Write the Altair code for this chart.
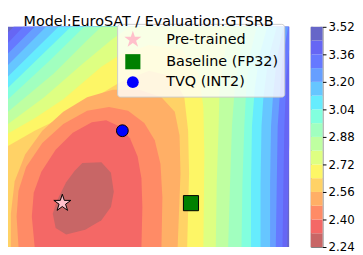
import altair as alt
import pandas as pd

# ---------------- data ----------------
LEVELS = [2.24, 2.32, 2.40, 2.48, 2.56, 2.64, 2.72, 2.80, 2.88,
          2.96, 3.04, 3.12, 3.20, 3.28, 3.36, 3.44, 3.52]
TICKS = [2.24, 2.40, 2.56, 2.72, 2.88, 3.04, 3.20, 3.36, 3.52]

# jet_r at alpha 0.6 on white, one colour per band (lowest first)
BAND_COLORS = ["#c86666", "#f46866", "#ff8b66", "#ffaf66", "#ffd266", "#fdf666",
               "#deff82", "#bfffa1", "#a1ffbf", "#82ffde", "#66ecfd", "#66c6ff",
               "#669fff", "#6679ff", "#6666f4", "#6666c8"]

# regions where loss < level, outlined by the contour lines
# (grid units: x to the right 0..295, y downward 0..231)
below_232 = [(78,143),(98,142),(108,153),(111,173),(108,189),(98,203),(81,213),(61,218),(50,211),(47,196),(51,183),(61,163),(70,151)]
below_240 = [(28,231),(25,199),(27,174),(35,152),(50,129),(68,111),(88,100),(103,98),(116,104),(128,117),(136,136),(140,159),(141,189),(140,231)]
below_248 = [(11,231),(9,199),(11,172),(19,147),(36,122),(58,102),(83,88),(106,84),(126,88),(143,101),(154,119),(160,144),(162,179),(161,231)]
below_256 = [(3,231),(3,196),(7,162),(18,134),(36,109),(58,89),(83,74),(110,66),(138,66),(161,74),(175,89),(180,114),(181,154),(178,231)]
below_264 = [(0,231),(0,125),(28,109),(63,92),(98,70),(118,58),(148,46),(173,52),(185,74),(189,109),(190,154),(188,231)]
below_272 = [(0,231),(0,112),(28,96),(58,76),(98,42),(118,29),(148,19),(183,24),(200,49),(205,84),(206,134),(205,231)]
below_280 = [(0,231),(0,102),(38,74),(78,39),(108,14),(128,0),(233,0),(228,24),(222,64),(221,104),(219,164),(218,231)]
below_288 = [(0,231),(0,89),(48,49),(83,14),(98,0),(250,0),(243,29),(238,64),(235,104),(233,164),(231,231)]
below_296 = [(0,231),(0,76),(43,36),(80,0),(261,0),(254,29),(250,64),(248,104),(246,164),(245,231)]
below_304 = [(0,231),(0,64),(66,0),(272,0),(264,29),(259,64),(256,104),(255,164),(255,231)]
below_312 = [(0,231),(0,52),(53,0),(282,0),(273,34),(268,74),(266,104),(265,164),(265,231)]
below_320 = [(0,231),(0,40),(40,0),(289,0),(282,34),(278,74),(276,104),(275,164),(275,231)]
below_328 = [(0,231),(0,28),(28,0),(294,0),(288,34),(285,74),(283,104),(282,164),(281,231)]
below_336 = [(0,231),(0,17),(16,0),(295,0),(295,24),(292,54),(290,104),(289,164),(288,231)]
below_344 = [(0,231),(0,6),(6,0),(295,0),(295,124),(294,174),(293,231)]
whole_grid = [(0,0),(295,0),(295,231),(0,231)]

# (band index of the fill, outline) drawn from the outermost to the innermost
REGIONS = [(15, whole_grid), (14, below_344), (13, below_336), (12, below_328),
           (11, below_320), (10, below_312), (9, below_304), (8, below_296),
           (7, below_288), (6, below_280), (5, below_272), (4, below_264),
           (3, below_256), (2, below_248), (1, below_240), (0, below_232)]

MARKER_NAMES = ["Pre-trained", "Baseline (FP32)", "TVQ (INT2)"]
MARKER_X = [57, 192, 120]
MARKER_Y = [185, 185, 109]

TITLE = "Model:EuroSAT / Evaluation:GTSRB"

# five-pointed star symbol (unit box -1..1), like matplotlib's '*'
STAR = ("M0,-1L0.2245,-0.309L0.9511,-0.309L0.3633,0.118L0.5878,0.809L0,0.382"
        "L-0.5878,0.809L-0.3633,0.118L-0.9511,-0.309L-0.2245,-0.309Z")

# ---------------- build tables ----------------
features = []
for band, poly in REGIONS:
    ring = [[float(x), float(y)] for x, y in poly]
    ring.append(ring[0])
    features.append({"type": "Feature", "properties": {"band": band},
                     "geometry": {"type": "Polygon", "coordinates": [ring]}})
geo_data = alt.InlineData(values={"type": "FeatureCollection", "features": features},
                          format=alt.DataFormat(property="features", type="json"))

pts_df = pd.DataFrame({"name": MARKER_NAMES, "x": MARKER_X, "y": MARKER_Y})
cb_df = pd.DataFrame({"lo": LEVELS[:-1], "hi": LEVELS[1:], "band": list(range(16))})

FONT = "DejaVu Sans"
color_scale = alt.Scale(domain=list(range(16)), range=BAND_COLORS)

W, H = 286, 224

field = alt.Chart(geo_data).mark_geoshape(strokeWidth=0).encode(
    color=alt.Color("properties.band:O", scale=color_scale, legend=None),
).project(type="identity")

leg = dict(title=None, orient="none", legendX=111, legendY=-3,
           fillColor="rgba(255,255,255,0.8)", strokeColor="#cccccc",
           cornerRadius=3, padding=6, labelFontSize=14.6, labelFont=FONT,
           labelColor="black", labelOffset=24, rowPadding=2,
           symbolStrokeColor="black", symbolStrokeWidth=1)

points = alt.Chart(pts_df).mark_point(filled=True, stroke="black", strokeWidth=1, opacity=1).encode(
    longitude="x:Q",
    latitude="y:Q",
    shape=alt.Shape("name:N", scale=alt.Scale(domain=MARKER_NAMES, range=[STAR, "square", "circle"]), legend=alt.Legend(**leg)),
    fill=alt.Fill("name:N", scale=alt.Scale(domain=MARKER_NAMES, range=["pink", "green", "blue"]), legend=alt.Legend(**leg)),
    size=alt.Size("name:N", scale=alt.Scale(domain=MARKER_NAMES, range=[330, 144, 170]), legend=alt.Legend(**leg)),
).project(type="identity")

plot = alt.layer(field, points).properties(
    width=W, height=H,
    title=alt.TitleParams(TITLE, fontSize=14.6, font=FONT, fontWeight="normal", anchor="middle", offset=-5, color="black"),
)

cbar = alt.Chart(cb_df).mark_rect().encode(
    y=alt.Y("lo:Q", scale=alt.Scale(domain=[2.24, 3.52], nice=False, zero=False),
            axis=alt.Axis(orient="right", values=TICKS, format=".2f", title=None, domain=False,
                          grid=False, tickSize=3.5, tickColor="black", labelFontSize=12,
                          labelFont=FONT, labelColor="black", labelPadding=2)),
    y2="hi:Q",
    color=alt.Color("band:O", scale=color_scale, legend=None),
).properties(
    width=12, height=H,
    title=alt.TitleParams("_", fontSize=14.6, font=FONT, offset=-5, color="white"),
)

chart = alt.hconcat(plot, cbar, spacing=21).resolve_legend(
    shape="independent", fill="independent", size="independent"
).properties(padding=0).configure(font=FONT).configure_view(stroke="#808080")

chart.save("out.html", embed_options={"renderer": "svg", "actions": False})
